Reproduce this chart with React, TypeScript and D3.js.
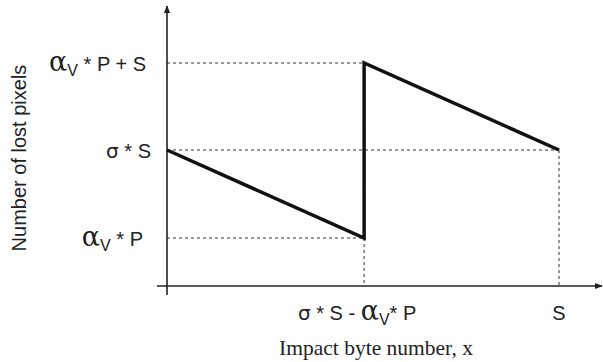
import React from "react";
import * as d3 from "d3";

// Model quantities, expressed in a common unit (bytes / pixels)
const S = 175;
const alphaP = 48;
const sigmaS = 136;
const jumpX = sigmaS - alphaP;

// Piecewise-linear loss curve: falls, jumps at sigma*S - alpha*P, falls again
const curveX = [0, jumpX, jumpX, S];
const curveY = [sigmaS, alphaP, alphaP + S, sigmaS];

const W = 603;
const H = 362;

export default function App() {
  const x = d3.scaleLinear().domain([0, S]).range([167, 559]);
  const y = d3.scaleLinear().domain([0, alphaP + S]).range([286, 63]);

  const pts: [number, number][] = curveX.map((v, i) => [x(v), y(curveY[i])]);
  const line = d3.line();

  const axisColor = "#222";
  const guide = { stroke: "#333", strokeWidth: 1, strokeDasharray: "3,3", fill: "none" };
  const sans = "'Liberation Sans', Arial, sans-serif";
  const fs = 20;

  const Alpha = () => (
    <>
      <tspan fontFamily="'DejaVu Serif', serif" fontSize={27}>α</tspan>
      <tspan fontSize={16} dy={5}>V</tspan>
    </>
  );

  return (
    <svg width={W} height={H} style={{ position: "absolute", left: 0, top: 0 }}>
      <rect width={W} height={H} fill="#fff" />
      <defs>
        <marker id="arr" viewBox="0 0 10 10" refX="9" refY="5" markerWidth="5" markerHeight="5" orient="auto">
          <path d="M0,1 L10,5 L0,9 Z" fill={axisColor} />
        </marker>
      </defs>

      {/* guide lines */}
      <line x1={x(0)} x2={x(jumpX)} y1={y(alphaP + S)} y2={y(alphaP + S)} {...guide} />
      <line x1={x(0)} x2={x(S)} y1={y(sigmaS)} y2={y(sigmaS)} {...guide} />
      <line x1={x(0)} x2={x(jumpX)} y1={y(alphaP)} y2={y(alphaP)} {...guide} />
      <line x1={x(jumpX)} x2={x(jumpX)} y1={y(alphaP)} y2={y(0)} {...guide} />
      <line x1={x(S)} x2={x(S)} y1={y(sigmaS)} y2={y(0)} {...guide} />

      {/* axes */}
      <line x1={x(0)} x2={x(0)} y1={295} y2={6} stroke={axisColor} strokeWidth={1.6} markerEnd="url(#arr)" />
      <line x1={157} x2={602} y1={y(0)} y2={y(0)} stroke={axisColor} strokeWidth={1.6} markerEnd="url(#arr)" />

      {/* curve */}
      <path d={line(pts) || ""} fill="none" stroke="#111" strokeWidth={3.5} strokeLinejoin="miter" />

      {/* y level labels */}
      <g fontFamily={sans} fontSize={fs} fill="#222" textAnchor="end">
        <text x={146} y={y(alphaP + S) + 8}>
          <Alpha />
          <tspan dy={-5}> * P + S</tspan>
        </text>
        <text x={151} y={y(sigmaS) + 8}>
          <tspan fontFamily="'DejaVu Sans', sans-serif">σ</tspan> * S
        </text>
        <text x={143} y={y(alphaP) + 8}>
          <Alpha />
          <tspan dy={-5}> * P</tspan>
        </text>
      </g>

      {/* x level labels */}
      <g fontFamily={sans} fontSize={fs} fill="#222" textAnchor="middle">
        <text x={x(jumpX) - 7} y={320}>
          <tspan fontFamily="'DejaVu Sans', sans-serif">σ</tspan> * S - <Alpha />
          <tspan dy={-5}>* P</tspan>
        </text>
        <text x={x(S)} y={320}>S</text>
      </g>

      {/* axis titles */}
      <text x={376} y={355} textAnchor="middle" fontFamily="'Liberation Serif', 'Times New Roman', serif" fontSize={21.5} fill="#222">
        Impact byte number, x
      </text>
      <text transform="translate(26,158) rotate(-90)" textAnchor="middle" fontFamily={sans} fontSize={20} fill="#222">
        Number of lost pixels
      </text>
    </svg>
  );
}
